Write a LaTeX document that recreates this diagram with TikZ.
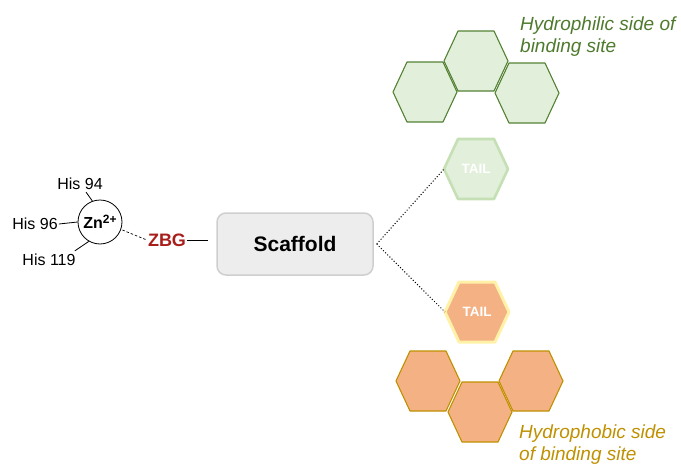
\documentclass[tikz,border=0pt]{standalone}
\usepackage{fontspec}
\setmainfont{Liberation Sans}
\definecolor{philfill}{HTML}{E2EFDA}
\definecolor{philline}{HTML}{548235}
\definecolor{philtail}{HTML}{C5E0B4}
\definecolor{philtext}{HTML}{4E7A2E}
\definecolor{phobfill}{HTML}{F4B183}
\definecolor{phobline}{HTML}{BF9000}
\definecolor{phobtail}{HTML}{FFF2A8}
\definecolor{phobtext}{HTML}{BF9000}
\definecolor{zbgred}{HTML}{A81E1A}
\definecolor{scafill}{HTML}{EDEDED}
\definecolor{scaline}{HTML}{CFCFCF}
\tikzset{
  hislabel/.style={font=\fontsize{16}{18}\selectfont, inner sep=1pt},
  bond/.style={line width=0.8pt, black},
  philhex/.style={fill=philfill, draw=philline, line width=1.1pt, line join=round},
  phobhex/.style={fill=phobfill, draw=phobline, line width=1.1pt, line join=round},
  philtailhex/.style={fill=philfill, draw=philtail, line width=2.6pt, line join=round},
  phobtailhex/.style={fill=phobfill, draw=phobtail, line width=3pt, line join=round},
  tailtext/.style={text=white, font=\bfseries\fontsize{13.5}{15}\selectfont},
  sidetext/.style={font=\itshape\fontsize{19}{22}\selectfont, align=left, anchor=base west, inner sep=0pt},
  link/.style={dotted, line width=1pt, black},
}
% hexagon with flat top and bottom: name, centre x, centre y, style
\newcommand\hexcell[4]{%
  \begin{scope}[shift={(#2,#3)}]
    \draw[#4] (-32,0) -- (-18,-30) -- (18,-30) -- (32,0) -- (18,30) -- (-18,30) -- cycle;
    \coordinate (#1) at (0,0);
    \coordinate (#1-w) at (-32,0);
  \end{scope}}
\begin{document}
\begin{tikzpicture}[x=1pt, y=-1pt]
  \useasboundingbox (0,0) rectangle (681,466);

  % zinc ion and its histidine ligands
  \node[circle, draw, line width=0.8pt, minimum size=44pt, inner sep=0pt,
        font=\bfseries\fontsize{16}{18}\selectfont] (zn) at (100,222)
        {Zn\raisebox{5pt}{\fontsize{12}{12}\selectfont 2+}};
  \node[hislabel] (h94) at (80,184) {His 94};
  \node[hislabel] (h96) at (35,224) {His 96};
  \node[hislabel] (h119) at (49,260) {His 119};
  \draw[bond] (h94.south) ++(6,1) coordinate (h94b) -- (zn.110);
  \draw[bond] (h96.east) -- (zn.west);
  \draw[bond] (h119.north east) ++(-2,-2) coordinate (h119b) -- (zn.240);

  % zinc binding group and scaffold
  \node[text=zbgred, font=\bfseries\fontsize{18}{20}\selectfont, inner sep=1pt] (zbg) at (167,240) {ZBG};
  \draw[dashed, line width=0.7pt, dash pattern=on 2.5pt off 2pt] (zn.east |- 0,230) -- (zbg.west);
  \node[rectangle, rounded corners=9pt, fill=scafill, draw=scaline, line width=1.5pt,
        minimum width=156pt, minimum height=62pt,
        font=\bfseries\fontsize{21}{24}\selectfont] (scaf) at (295,244) {Scaffold};
  \draw[line width=1pt] (zbg.east) -- ([xshift=-8pt]scaf.west |- zbg.east);

  % hydrophilic region
  \hexcell{gl}{425}{92}{philhex}
  \hexcell{gm}{476}{61}{philhex}
  \hexcell{gr}{527}{93}{philhex}
  \hexcell{gt}{476}{169}{philtailhex}
  \node[tailtext] (gtail) at (gt) {TAIL};
  \node[sidetext, text=philtext] (philname) at (520,52) {Hydrophilic side of\\binding site};

  % hydrophobic region
  \hexcell{ot}{477}{312}{phobtailhex}
  \node[tailtext] (otail) at (ot) {TAIL};
  \hexcell{ol}{428}{381}{phobhex}
  \hexcell{om}{480}{412}{phobhex}
  \hexcell{or}{531}{381}{phobhex}
  \node[sidetext, text=phobtext] (phobname) at (519,460) {Hydrophobic side\\of binding site};

  % scaffold to tails
  \coordinate (sx) at ([xshift=3pt]scaf.east);
  \draw[link] (sx) -- (gt-w);
  \draw[link] (sx) -- (ot-w);
\end{tikzpicture}
\end{document}
